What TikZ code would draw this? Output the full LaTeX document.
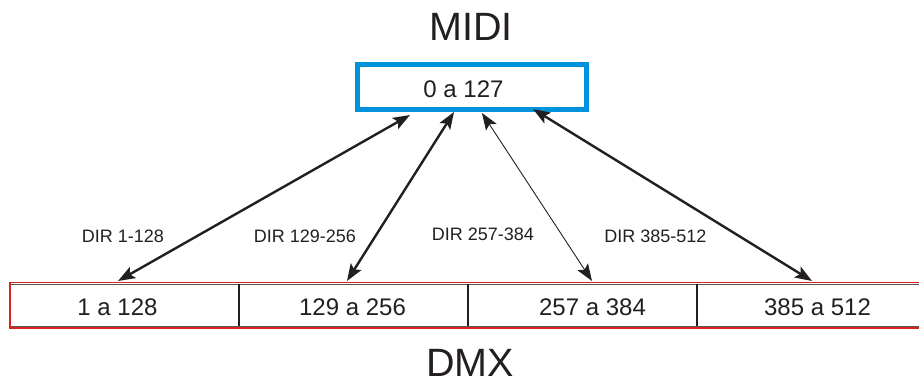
\documentclass[tikz,border=0pt]{standalone}
\usepackage{fontspec}
\setmainfont{Liberation Sans}
\usetikzlibrary{arrows.meta,calc}
\definecolor{midiblue}{HTML}{0093DD}
\definecolor{dmxred}{HTML}{E0201B}
\definecolor{txt}{HTML}{231F20}
\definecolor{cellgray}{HTML}{555555}
\begin{document}
\begin{tikzpicture}[x=1pt,y=-1pt,
  every node/.style={text=txt, inner sep=0pt, outer sep=0pt},
  arr/.style={{Stealth[length=17pt,width=12.5pt,inset=3.5pt]}-{Stealth[length=17pt,width=12.5pt,inset=3.5pt]}, line width=2.4pt, draw=txt},
  thinarr/.style={{Stealth[length=17pt,width=12.5pt,inset=3.5pt]}-{Stealth[length=17pt,width=12.5pt,inset=3.5pt]}, line width=0.9pt, draw=txt},
  title/.style={anchor=base, font=\fontsize{39.5}{44}\selectfont},
  val/.style={anchor=base, font=\fontsize{24}{28}\selectfont},
  dir/.style={anchor=base, font=\fontsize{18}{22}\selectfont},
  cell/.style={draw=cellgray, line width=1pt, fill=white, minimum width=229pt, minimum height=42pt},
  redline/.style={draw=dmxred, line width=1.8pt},
  divider/.style={draw=txt, line width=2.2pt}
]
\useasboundingbox (0,0) rectangle (919,383);

% MIDI
\node[title] (miditxt) at (471,40) {MIDI};
\node[draw=midiblue, line width=5pt, fill=white, minimum width=229pt, minimum height=45pt] (midi) at (471.5,86.5) {};
\node[val] (midival) at (463.5,97) {0 a 127};

% DMX cells
\node[cell] (c1) at (124.5,305) {};
\node[cell] (c2) at (353.5,305) {};
\node[cell] (c3) at (582.5,305) {};
\node[cell, minimum width=300pt] (c4) at (847,305) {};
\draw[redline] ($(c1.north west)+(0,-1.6)$) -- ($(c4.north east)+(0,-1.6)$);
\draw[redline] ($(c1.south west)+(0,1.6)$) -- ($(c4.south east)+(0,1.6)$);
\draw[draw=dmxred, line width=2.6pt] ($(c1.north west)+(0,-2.5)$) -- ($(c1.south west)+(0,2.5)$);
\draw[divider] (c1.north east) -- (c1.south east);
\draw[divider] (c2.north east) -- (c2.south east);
\draw[divider] (c3.north east) -- (c3.south east);

\node[val] (v1) at (117.5,315) {1 a 128};
\node[val] (v2) at (352.5,315) {129 a 256};
\node[val] (v3) at (592.5,315) {257 a 384};
\node[val] (v4) at (817.5,315) {385 a 512};

\node[title] (dmxtxt) at (470,376) {DMX};

% arrows
\draw[arr] ($(midi.south)+(-61.5,6)$) -- ($(c1.north)+(-6.5,-3)$);
\draw[arr] ($(midi.south)+(-17.5,3)$) -- ($(c2.north)+(-6.5,-3)$);
\draw[thinarr] ($(midi.south)+(10.5,4)$) -- ($(c3.north)+(9.5,-3)$);
\draw[arr] ($(midi.south)+(61.5,0)$) -- ($(c4.north)+(-35,-3)$);

% labels
\node[dir] (d1) at (123,242) {DIR 1-128};
\node[dir] (d2) at (305,242) {DIR 129-256};
\node[dir] (d3) at (483,240) {DIR 257-384};
\node[dir] (d4) at (655.5,242) {DIR 385-512};
\end{tikzpicture}
\end{document}
